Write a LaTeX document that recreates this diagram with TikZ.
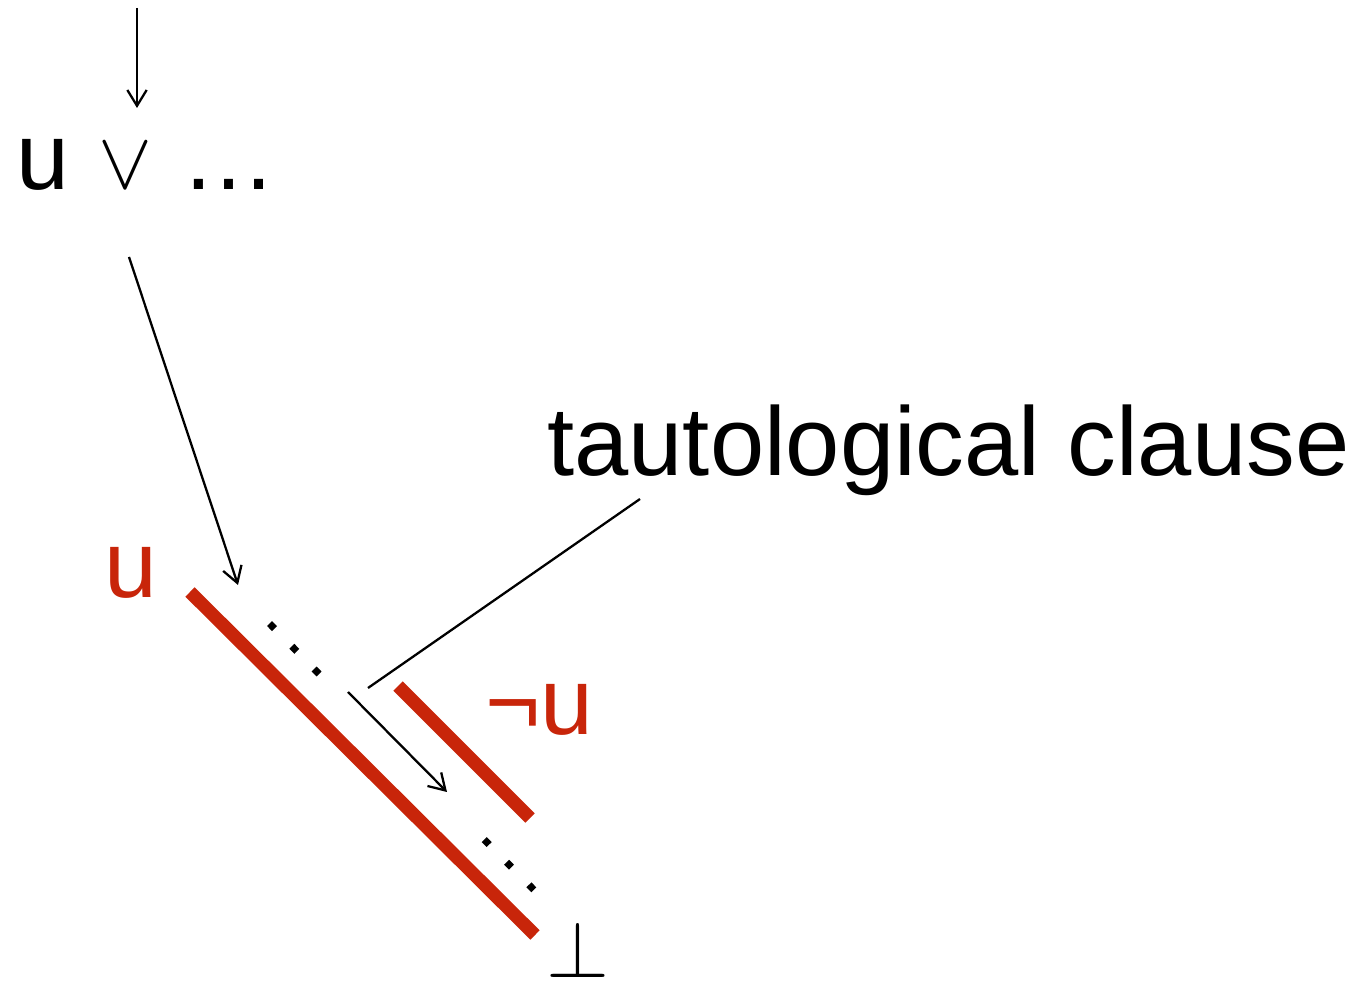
\documentclass[tikz,border=0pt]{standalone}
\usepackage{fontspec}
\setmainfont{Liberation Sans}
\usetikzlibrary{arrows.meta}
\definecolor{TrailRed}{HTML}{C8250A}

\begin{document}
\begin{tikzpicture}[
    x=0.02cm, y=-0.02cm,
    big/.style={inner sep=0pt, font=\fontsize{54}{64}\selectfont},
    sym/.style={inner sep=0pt, font=\fontsize{24.88}{30}\selectfont},
    lit/.style={big, text=TrailRed},
    a/.style={-{Straight Barb[length=9pt, width=11pt]}, line width=1.3pt},
    ptr/.style={line width=1.3pt},
    trail/.style={TrailRed, line width=7.5pt},
    dotrow/.style={line width=4pt, dash pattern=on 4pt off 14.1pt},
  ]
  \useasboundingbox (0,0) rectangle (1370,982);
  % clause at the top
  \node[big, anchor=base west] (u0)    at (16,190)  {u};
  \node[sym, anchor=base]      (or0)   at (125,189) {\scalebox{1.85}{$\vee$}};
  \node[big, anchor=base west] (dots0) at (181,190) {…};
  \node[big, anchor=base west, font=\fontsize{55.5}{64}\selectfont] (taut) at (547,476) {tautological clause};
  % literals on the trail
  \node[lit, anchor=base west] (lu)  at (104,598) {u};
  \node[lit, anchor=base west] (lnu) at (485,735) {¬u};
  \node[sym, anchor=base]      (bot) at (578,977) {\scalebox{1.85}{$\bot$}};
  % end points
  \coordinate (inTop) at (137,8);
  \coordinate (inTip) at (137,108);
  \coordinate (clFrom) at (129,257);
  \coordinate (clTo)   at (238,585);
  \coordinate (uA) at (190,592);
  \coordinate (uB) at (535,935);
  \coordinate (nA) at (398,686);
  \coordinate (nB) at (530,818);
  \coordinate (tautFoot) at (640,499);
  \coordinate (tautTip)  at (368,688);
  \coordinate (jmpFrom) at (348,692);
  \coordinate (jmpTo)   at (447,792);
  % trail
  \draw[trail] (uA) -- (uB);
  \draw[trail] (nA) -- (nB);
  \draw[dotrow] (269.6,623.6) -- (320,675);
  \draw[dotrow] (484.2,839.6) -- (534,890);
  % arrows
  \draw[a] (inTop) -- (inTip);
  \draw[a] (clFrom) -- (clTo);
  \draw[a] (jmpFrom) -- (jmpTo);
  \draw[ptr] (tautFoot) -- (tautTip);
\end{tikzpicture}
\end{document}
